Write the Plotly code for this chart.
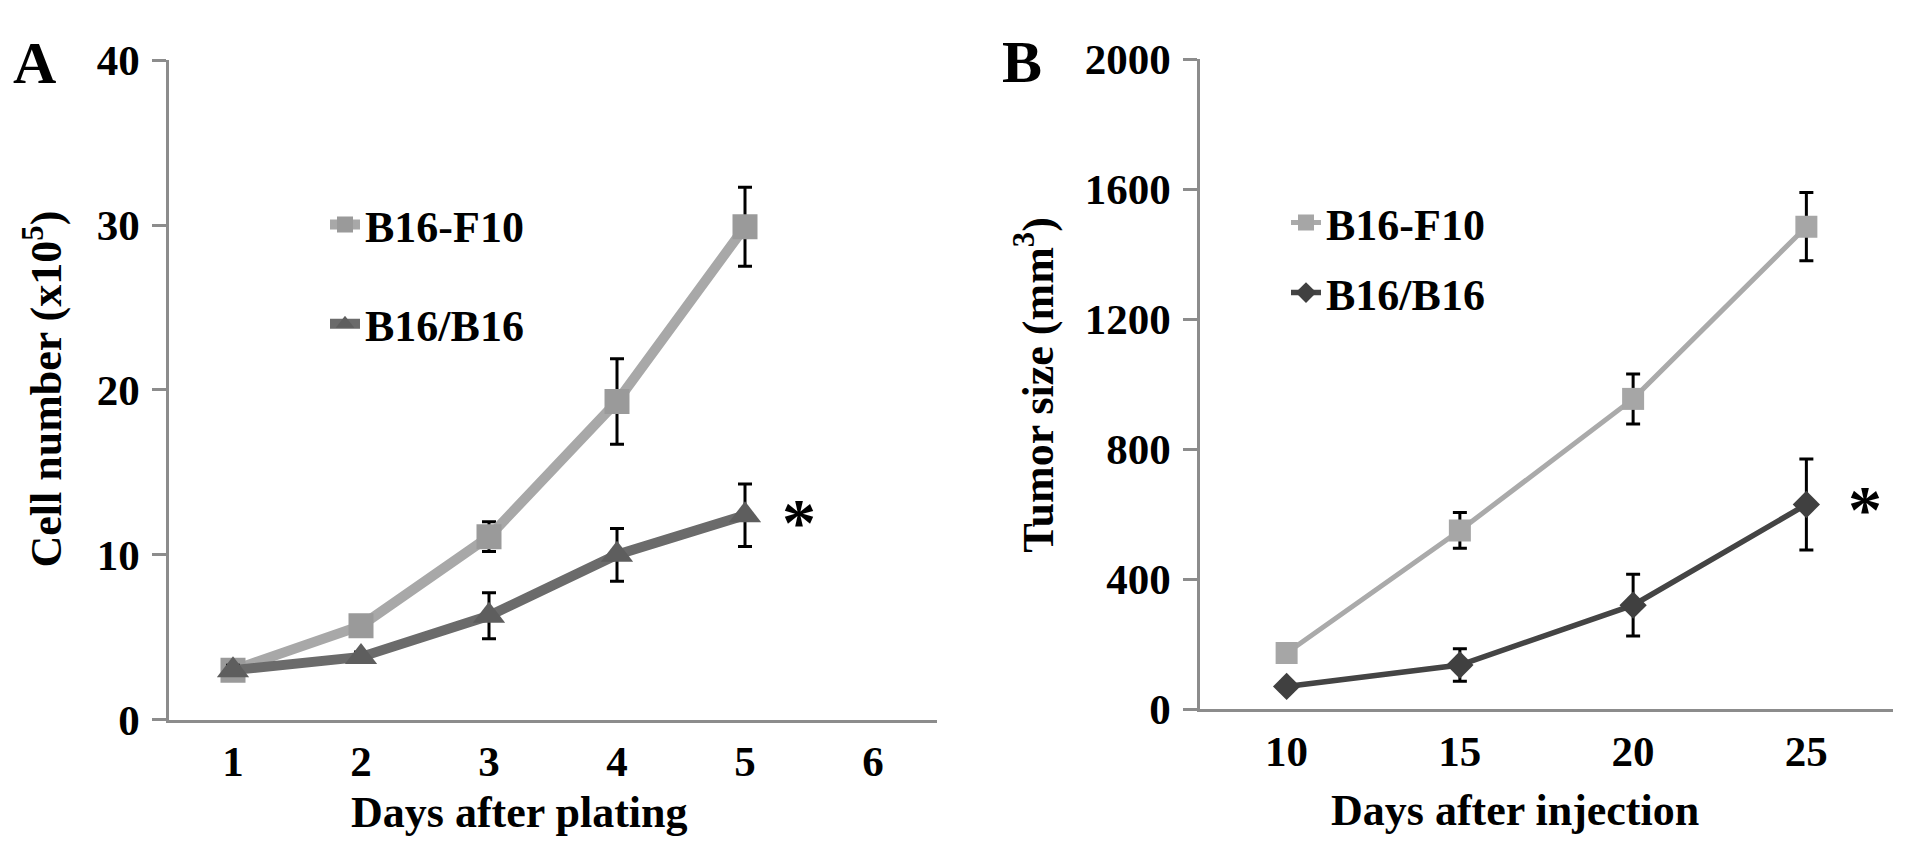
import plotly.graph_objects as go

# panel A: cell growth in vitro
days_plating = [1, 2, 3, 4, 5]
f10_cells = [3.0, 5.7, 11.1, 19.3, 29.9]
f10_cells_err = [0.3, 0.3, 0.9, 2.6, 2.4]
b16_cells = [3.0, 3.8, 6.3, 10.0, 12.4]
b16_cells_err = [0.3, 0.3, 1.4, 1.6, 1.9]

# panel B: tumor growth in vivo
days_injection = [10, 15, 20, 25]
f10_tumor = [173, 550, 955, 1485]
f10_tumor_err = [20, 55, 77, 105]
b16_tumor = [70, 136, 320, 630]
b16_tumor_err = [15, 50, 95, 140]

series_names = ["B16-F10", "B16/B16"]
a_xticks = [1, 2, 3, 4, 5, 6]
a_yticks = [0, 10, 20, 30, 40]
b_xticks = [10, 15, 20, 25]
b_yticks = [0, 400, 800, 1200, 1600, 2000]

SERIF = "Liberation Serif"
AXIS_GREY = "#8c8c8c"
W, H = 1913, 868
OFF = 8  # page body margin that the html adds


def px(x):
    return (x - OFF) / W


def py(y):
    return 1 - (y - OFF) / H


def bold(size):
    return dict(family=SERIF, size=size, color="black", weight="bold")


def err(vals):
    return dict(type="data", array=vals, color="black", thickness=3, width=7)


fig = go.Figure()

fig.add_trace(go.Scatter(
    x=days_plating, y=f10_cells, error_y=err(f10_cells_err),
    mode="lines+markers", name=series_names[0],
    line=dict(color="#a8a8a8", width=10),
    marker=dict(symbol="square", size=25, color="#9a9a9a"),
    xaxis="x", yaxis="y", legend="legend",
))
fig.add_trace(go.Scatter(
    x=days_plating, y=b16_cells, error_y=err(b16_cells_err),
    mode="lines+markers", name=series_names[1],
    line=dict(color="#6b6b6b", width=10),
    marker=dict(symbol="triangle-up", size=28, color="#5e5e5e"),
    xaxis="x", yaxis="y", legend="legend2",
))
fig.add_trace(go.Scatter(
    x=days_injection, y=f10_tumor, error_y=err(f10_tumor_err),
    mode="lines+markers", name=series_names[0],
    line=dict(color="#aaaaaa", width=5),
    marker=dict(symbol="square", size=22, color="#a6a6a6"),
    xaxis="x2", yaxis="y2", legend="legend3",
))
fig.add_trace(go.Scatter(
    x=days_injection, y=b16_tumor, error_y=err(b16_tumor_err),
    mode="lines+markers", name=series_names[1],
    line=dict(color="#444444", width=5.5),
    marker=dict(symbol="diamond", size=21, color="#404040"),
    xaxis="x2", yaxis="y2", legend="legend4",
))

x_common = dict(showgrid=False, zeroline=False, showline=True, linecolor=AXIS_GREY,
                linewidth=2.5, ticks="", tickfont=bold(43), ticklabelstandoff=2)
y_common = dict(showgrid=False, zeroline=False, showline=True, linecolor=AXIS_GREY,
                linewidth=2.5, ticks="outside", ticklen=14, tickwidth=2.5,
                tickcolor=AXIS_GREY, tickfont=bold(43), ticklabelstandoff=4)


def leg(x, y):
    return dict(x=x, y=y, xanchor="left", yanchor="middle", font=bold(44),
                bgcolor="rgba(0,0,0,0)", borderwidth=0, itemclick=False,
                visible=True)


fig.update_layout(
    width=W, height=H, autosize=False, showlegend=True,
    margin=dict(l=0, r=0, t=0, b=0),
    paper_bgcolor="white", plot_bgcolor="white",
    xaxis=dict(x_common, domain=[px(169), px(937)], range=[0.5, 6.5],
               tickvals=a_xticks, anchor="y"),
    yaxis=dict(y_common, domain=[py(736), py(39)], range=[0, 40],
               tickvals=a_yticks, anchor="x"),
    xaxis2=dict(x_common, domain=[px(1200), px(1893)], range=[7.5, 27.5],
                tickvals=b_xticks, anchor="y2"),
    yaxis2=dict(y_common, domain=[py(725), py(38)], range=[0, 2000],
                tickvals=b_yticks, anchor="x2"),
    legend=leg(px(325), py(213)),
    legend2=leg(px(325), py(318)),
    legend3=leg(px(1286), py(211)),
    legend4=leg(px(1286), py(285)),
)

ann = [
    dict(text="A", x=px(34), y=py(42), xref="paper", yref="paper", font=bold(60)),
    dict(text="B", x=px(1022), y=py(41), xref="paper", yref="paper", font=bold(60)),
    dict(text="Cell number (x10<sup>5</sup>)", x=px(43), y=py(387), xref="paper",
         yref="paper", textangle=-90, font=bold(44)),
    dict(text="Tumor size (mm<sup>3</sup>)", x=px(1035), y=py(382), xref="paper",
         yref="paper", textangle=-90, font=bold(44)),
    dict(text="Days after plating", x=3.24, y=py(834), xref="x", yref="paper",
         font=bold(44)),
    dict(text="Days after injection", x=16.6, y=py(832), xref="x2", yref="paper",
         font=bold(44)),
    dict(text="*", x=5.42, y=12.0, xref="x", yref="y", font=bold(68)),
    dict(text="*", x=26.7, y=615, xref="x2", yref="y2", font=bold(68)),
]
for a in ann:
    a.update(showarrow=False, xanchor="center", yanchor="middle")
fig.update_layout(annotations=ann)

fig.write_html("out.html")
